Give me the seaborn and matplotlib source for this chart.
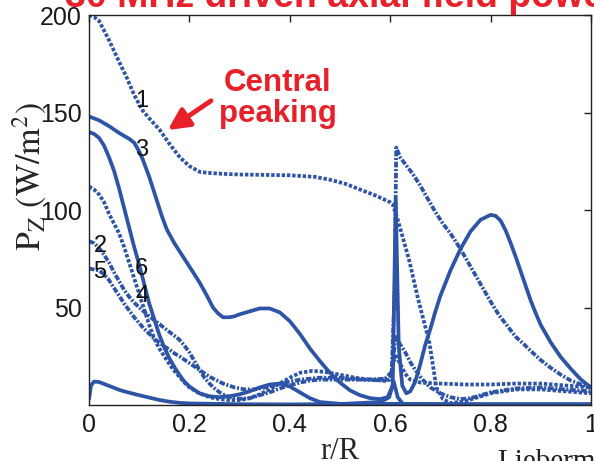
import matplotlib
matplotlib.use("Agg")
import matplotlib.pyplot as plt
import seaborn as sns

# ---------------- data ----------------
x_c1 = [0, 0.01, 0.02, 0.03, 0.042, 0.05, 0.06, 0.075, 0.09, 0.107, 0.12, 0.141, 0.16, 0.181, 0.2,
        0.221, 0.24, 0.27, 0.3, 0.35, 0.4, 0.45, 0.48, 0.51, 0.54, 0.57, 0.6, 0.605, 0.615, 0.625,
        0.638, 0.655, 0.678, 0.692, 0.705, 0.72, 0.75, 0.8, 0.85, 0.9, 0.95, 1.0]
y_c1 = [200, 199, 197, 192, 186, 181.5, 176, 168, 159, 151, 147, 141, 134, 127, 122.5,
        119.5, 119, 118.5, 118.2, 118, 117.8, 117, 115.5, 113.5, 110.5, 107.5, 104, 103, 95, 86,
        74, 55, 32, 9, 3, 1, 2, 6, 8, 8, 7, 6]

x_c2 = [0, 0.01, 0.02, 0.03, 0.04, 0.05, 0.06, 0.07, 0.08, 0.09, 0.1, 0.12, 0.14, 0.16, 0.18,
        0.19, 0.2, 0.21, 0.22, 0.23, 0.24, 0.25, 0.26, 0.27, 0.28, 0.3, 0.32, 0.34, 0.36, 0.38,
        0.4, 0.42, 0.44, 0.46, 0.5, 0.55, 0.59, 0.603, 0.609, 0.612, 0.62, 0.63, 0.645, 0.66,
        0.672, 0.69, 0.705, 0.72, 0.74, 0.76, 0.78, 0.8, 0.817, 0.835, 0.85, 0.867, 0.883, 0.9,
        0.92, 0.94, 0.96, 0.98, 1.0]
y_c2 = [84, 83, 80.5, 77, 73, 68, 63.5, 59, 55.5, 52.5, 50, 45.5, 41.5, 37.5, 33.5,
        30.5, 27, 22.5, 18, 14, 11, 8.5, 6.5, 5, 4, 3.2, 3.5, 5, 6.5, 8.5,
        10, 11.5, 12.5, 13, 13, 13, 13.5, 17, 60, 132, 127, 123.5, 118.5, 112.5,
        107, 99, 93, 88, 80, 71, 62, 53, 46, 40, 35, 31, 27, 23,
        19, 15.5, 12.5, 10.5, 9]

x_c3 = [0, 0.01, 0.02, 0.04, 0.06, 0.08, 0.09, 0.1, 0.107, 0.12, 0.135, 0.145, 0.155, 0.17, 0.185,
        0.195, 0.21, 0.221, 0.235, 0.247, 0.257, 0.267, 0.28, 0.29, 0.3, 0.32, 0.34, 0.36, 0.38,
        0.4, 0.42, 0.44, 0.46, 0.48, 0.5, 0.52, 0.54, 0.56, 0.58, 0.595, 0.605, 0.611, 0.617,
        0.624, 0.632, 0.64, 0.65, 0.66, 0.67, 0.68, 0.69, 0.7, 0.72, 0.74, 0.76, 0.78, 0.8, 0.81,
        0.82, 0.83, 0.84, 0.85, 0.86, 0.87, 0.88, 0.89, 0.9, 0.92, 0.94, 0.96, 0.98, 1.0]
y_c3 = [148, 147, 146, 143, 139.5, 136.5, 134.5, 130, 126, 117, 105, 97, 90, 83, 77,
        73, 67, 62.5, 56, 50, 47, 45, 45, 45.5, 46.5, 48, 49.5, 49.5, 47.5,
        43, 36.5, 29, 22.5, 16.5, 11.5, 7.5, 5, 3.5, 3, 4, 10, 105, 30,
        10, 6, 7, 12, 21, 31, 39, 48, 56, 69, 80, 89, 95, 97.5, 97,
        94.5, 89.5, 83, 76, 68.5, 61, 53.5, 47, 41, 32, 24.5, 18.5, 13, 9]

x_c4 = [0, 0.01, 0.02, 0.03, 0.04, 0.05, 0.06, 0.07, 0.08, 0.09, 0.1, 0.11, 0.12, 0.13, 0.14,
        0.15, 0.16, 0.17, 0.18, 0.19, 0.2, 0.22, 0.24, 0.26, 0.28, 0.3, 0.32, 0.34, 0.36, 0.38,
        0.4, 0.42, 0.445, 0.47, 0.5, 0.53, 0.56, 0.59, 0.6, 0.606, 0.612, 0.62, 0.63, 0.64,
        0.66, 0.7, 0.75, 0.8, 0.85, 0.9, 0.95, 1.0]
y_c4 = [112, 110.5, 108, 104, 98, 93, 88, 81, 73, 65, 57, 49, 41, 34, 29,
        25, 21, 17.5, 14.5, 11.5, 9, 6, 4, 3, 2.5, 2.5, 3.5, 5.5, 8, 11,
        14, 16.5, 17.5, 17, 15.5, 14, 13, 12.5, 13, 22, 25, 21, 16, 13,
        11.5, 11, 10.5, 10.5, 11, 11, 10, 9]

x_c5 = [0, 0.01, 0.02, 0.03, 0.04, 0.05, 0.06, 0.07, 0.08, 0.09, 0.1, 0.11, 0.12, 0.13, 0.14,
        0.15, 0.16, 0.17, 0.18, 0.2, 0.22, 0.24, 0.267, 0.29, 0.31, 0.33, 0.35, 0.38, 0.42, 0.46,
        0.5, 0.55, 0.59, 0.604, 0.61, 0.62, 0.63, 0.64, 0.65, 0.66, 0.67, 0.68, 0.7, 0.72, 0.74,
        0.76, 0.78, 0.8, 0.85, 0.9, 0.95, 1.0]
y_c5 = [70, 69.5, 69, 67, 64, 60, 56, 52, 48.5, 45, 42, 39, 36.5, 34, 32,
        30, 28.5, 26.5, 25, 21.5, 18, 14.5, 11, 9, 8, 8, 9, 11, 13, 14,
        14, 13, 12.5, 16, 35, 31, 27, 22, 18, 14.5, 11.5, 9, 6, 4, 3,
        3.5, 5, 6.5, 8.5, 9, 8, 7]

x_c6 = [0, 0.01, 0.02, 0.03, 0.04, 0.05, 0.06, 0.07, 0.08, 0.09, 0.1, 0.11, 0.12, 0.13, 0.14,
        0.15, 0.16, 0.17, 0.18, 0.19, 0.2, 0.22, 0.24, 0.26, 0.28, 0.3, 0.32, 0.34, 0.36, 0.38,
        0.4, 0.42, 0.44, 0.46, 0.5, 0.6, 0.7, 0.8, 0.9, 1.0]
y_c6 = [140, 139, 137, 133, 127, 120, 111, 101, 91, 81, 72, 62, 52, 44, 36,
        29.5, 24, 19.5, 15.5, 12, 9.5, 6, 4.5, 4, 4.5, 5.5, 7, 9, 10.5, 11,
        9.5, 6.5, 3.5, 1.5, 0.6, 0.6, 0.5, 0.4, 0.4, 0.4]

x_c7 = [0, 0.004, 0.01, 0.02, 0.03, 0.04, 0.05, 0.06, 0.07, 0.088, 0.1, 0.12, 0.14, 0.16, 0.18,
        0.2, 0.3, 0.4, 0.5, 0.58, 0.598, 0.607, 0.615, 0.625, 0.7, 0.8, 0.9, 1.0]
y_c7 = [3, 10, 12, 11.8, 10.8, 9.8, 8.8, 7.8, 7, 5.8, 5, 3.8, 2.6, 1.7, 1.1,
        0.8, 0.4, 0.3, 0.5, 1.5, 4, 12, 4, 0.6, 0.3, 0.3, 0.3, 0.3]

curve_labels = ["1", "3", "2", "5", "6", "4"]
label_x = [0.105, 0.105, 0.022, 0.022, 0.105, 0.105]
label_y = [156, 131, 81.5, 68, 70, 56]

xticks = [0, 0.2, 0.4, 0.6, 0.8, 1.0]
xticklabels = ["0", "0.2", "0.4", "0.6", "0.8", "1"]
yticks = [50, 100, 150, 200]

# ---------------- styling ----------------
sns.set_theme(style="white")
plt.rcParams["font.family"] = ["Liberation Sans", "DejaVu Sans"]
plt.rcParams["mathtext.fontset"] = "stix"

BLUE = "#2D54A6"
RED = "#E8202A"
LW = 2.7
DOT = (0, (0.9, 0.5))
DASHDOT = (0, (1.5, 0.45, 0.55, 0.45))

fig = plt.figure(figsize=(5.94, 4.61), dpi=100)
ax = fig.add_axes([89 / 594, 1 - 405 / 461, 502 / 594, 390 / 461])

series = [
    (x_c1, y_c1, DOT),
    (x_c2, y_c2, DASHDOT),
    (x_c3, y_c3, "-"),
    (x_c4, y_c4, DOT),
    (x_c5, y_c5, DASHDOT),
    (x_c6, y_c6, "-"),
    (x_c7, y_c7, "-"),
]
for xs, ys, ls in series:
    sns.lineplot(x=xs, y=ys, ax=ax, color=BLUE, linewidth=LW, linestyle=ls,
                 sort=False, estimator=None, legend=False)

ax.set_xlim(0, 1)
ax.set_ylim(0, 200)
ax.set_xticks(xticks)
ax.set_xticklabels(xticklabels)
ax.set_yticks(yticks)
ax.tick_params(axis="both", direction="in", length=5, width=1, colors="#222222",
               labelsize=18, top=True, right=True, labelcolor="#1a1a1a")
ax.tick_params(axis="x", pad=6)
ax.tick_params(axis="y", pad=5)
for s in ax.spines.values():
    s.set_visible(True)
    s.set_color("#222222")
    s.set_linewidth(1.0)
ax.set_facecolor("white")

ax.set_xlabel("r/R", fontsize=22, family=["Liberation Serif"], va="center")
ax.xaxis.set_label_coords(0.5, -0.118)
ax.set_ylabel(r"$\mathrm{P_Z\ (W/m^2)}$", fontsize=24.5, va="center")
ax.yaxis.set_label_coords(-0.118, 0.585)

for t, lx, ly in zip(curve_labels, label_x, label_y):
    ax.text(lx, ly, t, fontsize=17, color="#111111", ha="center", va="center")

ax.text(0.376, 157, "Central\npeaking", color=RED, fontsize=22.5, fontweight="bold",
        ha="center", va="center", linespacing=1.05)
ax.annotate("", xy=(0.157, 141), xytext=(0.243, 156),
            arrowprops=dict(arrowstyle="-|>", color=RED, lw=3.5, mutation_scale=32,
                            shrinkA=0, shrinkB=0))

fig.text(65 / 594, 1 - 7 / 461, "30 MHz driven axial field power", color=RED,
         fontsize=27, fontweight="bold", ha="left", va="baseline")
fig.text(497 / 594, 1 - 449 / 461, "Lieberman", fontsize=21,
         family=["Liberation Serif"], color="#222222", ha="left", va="top")

fig.savefig("out.png", dpi=100)
